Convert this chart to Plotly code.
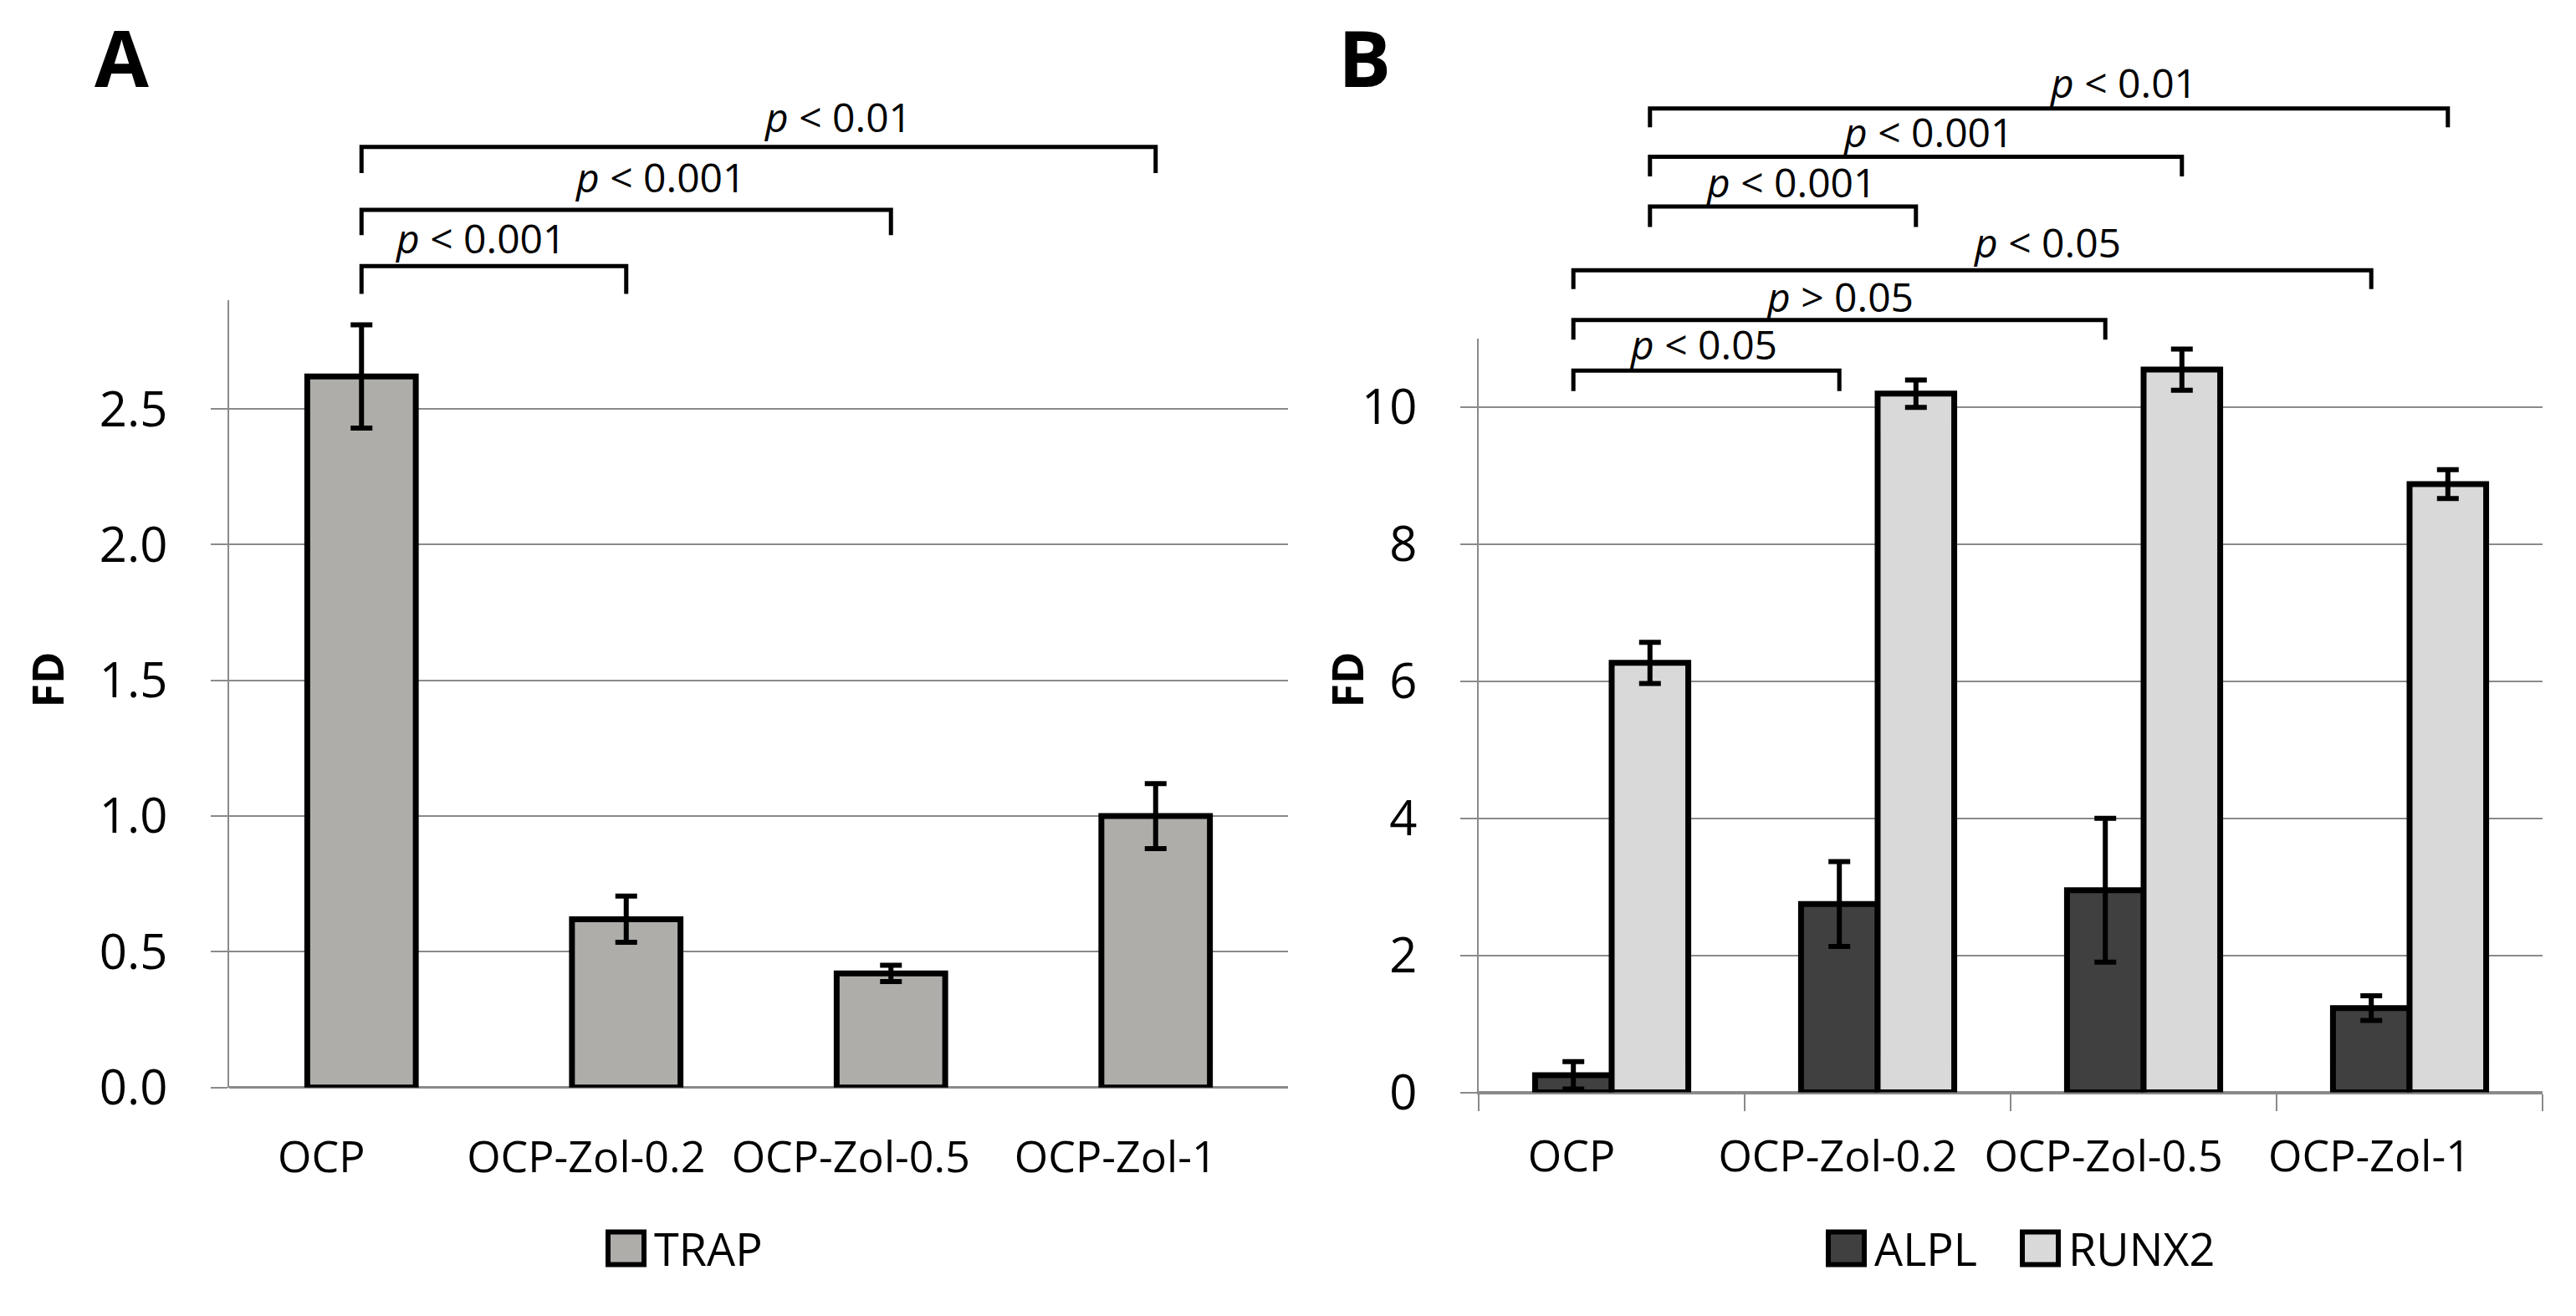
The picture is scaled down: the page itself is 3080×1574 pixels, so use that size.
import plotly.graph_objects as go

# ---------------- data ----------------
categories = ["OCP", "OCP-Zol-0.2", "OCP-Zol-0.5", "OCP-Zol-1"]
trap = [2.62, 0.62, 0.42, 1.00]
trap_err = [0.19, 0.085, 0.03, 0.12]
alpl = [0.25, 2.75, 2.95, 1.23]
alpl_err = [0.20, 0.62, 1.05, 0.18]
runx2 = [6.27, 10.20, 10.55, 8.88]
runx2_err = [0.30, 0.20, 0.30, 0.21]
yticks_a = [0.0, 0.5, 1.0, 1.5, 2.0, 2.5]
yticks_b = [0, 2, 4, 6, 8, 10]

# significance comparisons: (from category, to category, operator, p threshold)
sig_a = [(0, 1, "<", "0.001"), (0, 2, "<", "0.001"), (0, 3, "<", "0.01")]
sig_b_alpl = [(0, 1, "<", "0.05"), (0, 2, ">", "0.05"), (0, 3, "<", "0.05")]
sig_b_runx2 = [(0, 1, "<", "0.001"), (0, 2, "<", "0.001"), (0, 3, "<", "0.01")]

# ---------------- styling / layout ----------------
W, H = 3080, 1574
FONT = "Open Sans, Liberation Sans, Arial, sans-serif"
GRID = "#8a8a8a"
TRAP_C = "#aeada9"
ALPL_C = "#404040"
RUNX2_C = "#d9d9d9"


def py(p):
    return 1 - p / H


def px(p):
    return p / W


fig = go.Figure()

err_style = dict(type="data", thickness=6, width=13, color="black")
bar_line = dict(color="black", width=7)

fig.add_trace(go.Bar(x=categories, y=trap, width=0.41, marker=dict(color=TRAP_C, line=bar_line),
                     error_y=dict(array=trap_err, **err_style), xaxis="x", yaxis="y",
                     showlegend=False, name="TRAP"))
fig.add_trace(go.Bar(x=categories, y=alpl, width=0.288, offset=-0.288,
                     marker=dict(color=ALPL_C, line=bar_line),
                     error_y=dict(array=alpl_err, **err_style), xaxis="x2", yaxis="y2",
                     showlegend=False, name="ALPL"))
fig.add_trace(go.Bar(x=categories, y=runx2, width=0.288, offset=0,
                     marker=dict(color=RUNX2_C, line=bar_line),
                     error_y=dict(array=runx2_err, **err_style), xaxis="x2", yaxis="y2",
                     showlegend=False, name="RUNX2"))

tickfont = dict(family=FONT, size=52, color="black")
ytickfont = dict(family=FONT, size=58, color="black")

fig.update_layout(
    width=W, height=H, margin=dict(l=0, r=0, t=0, b=0),
    paper_bgcolor="white", plot_bgcolor="white",
    barmode="overlay",
    xaxis=dict(domain=[px(274), px(1540)], type="category", categoryorder="array",
               categoryarray=categories, showgrid=False, showline=False, ticks="",
               tickfont=tickfont, ticklabelstandoff=48, ticklabelshift=-48, zeroline=False),
    yaxis=dict(domain=[py(1332), py(368)], range=[0, 2.9], tickvals=yticks_a, tickformat=".1f",
               showgrid=True, gridcolor=GRID, gridwidth=2, zeroline=True, zerolinecolor=GRID,
               zerolinewidth=3, showline=True, linecolor=GRID, linewidth=2, ticks="outside",
               ticklen=20, tickwidth=2, tickcolor=GRID, tickfont=ytickfont, ticklabelstandoff=40),
    xaxis2=dict(domain=[px(1768), px(3040)], type="category", categoryorder="array",
                categoryarray=categories, showgrid=False, showline=True, linecolor=GRID,
                linewidth=2, ticks="outside", tickson="boundaries", ticklen=20, tickwidth=2,
                tickcolor=GRID, tickfont=tickfont, ticklabelstandoff=30, ticklabelshift=-48,
                anchor="y2", zeroline=False),
    yaxis2=dict(domain=[py(1338), py(415)], range=[0, 11], tickvals=yticks_b, tickformat="d",
                showgrid=True, gridcolor=GRID, gridwidth=2, zeroline=True, zerolinecolor=GRID,
                zerolinewidth=3, showline=True, linecolor=GRID, linewidth=2, ticks="outside",
                ticklen=20, tickwidth=2, tickcolor=GRID, tickfont=ytickfont, ticklabelstandoff=40,
                anchor="x2"),
)

shapes = []
annotations = []


def op_html(op):
    return "&lt;" if op == "<" else "&gt;"


def add_brackets(sig, xref, x_shift, levels, text_pos):
    for (a, b, op, thr), (ytop, ybot), (tx, ty) in zip(sig, levels, text_pos):
        x0, x1 = a + x_shift, b + x_shift
        shapes.append(dict(type="path", xref=xref, yref="paper",
                           path=f"M {x0},{py(ybot)} L {x0},{py(ytop)} L {x1},{py(ytop)} L {x1},{py(ybot)}",
                           line=dict(color="black", width=5)))
        annotations.append(dict(xref=xref, yref="paper", x=tx, y=py(ty), xanchor="center",
                                yanchor="middle", showarrow=False,
                                text=f"<i>p</i> {op_html(op)} {thr}",
                                font=dict(family=FONT, size=48, color="black")))


add_brackets(sig_a, "x", 0.0, [(326, 360), (257, 288), (180, 212)],
             [(0.45, 291), (1.13, 217), (1.80, 143)])
add_brackets(sig_b_alpl, "x2", -0.144, [(454, 479), (392, 416), (331, 354)],
             [(0.343, 421), (0.858, 363), (1.638, 296)])
add_brackets(sig_b_runx2, "x2", 0.144, [(253, 278), (192, 216), (133, 156)],
             [(0.673, 223), (1.189, 161), (1.923, 101)])

# panel letters and y titles
for txt, x in (("A", 145), ("B", 1632)):
    annotations.append(dict(xref="paper", yref="paper", x=px(x), y=py(70), text=f"<b>{txt}</b>",
                            showarrow=False, xanchor="center", yanchor="middle",
                            font=dict(family=FONT, size=94, color="black")))
for x in (55, 1609):
    annotations.append(dict(xref="paper", yref="paper", x=px(x), y=py(833), text="<b>FD</b>",
                            showarrow=False, xanchor="center", yanchor="middle", textangle=-90,
                            font=dict(family=FONT, size=52, color="black")))

# legends
legend_items = [("TRAP", TRAP_C, 727), ("ALPL", ALPL_C, 2186), ("RUNX2", RUNX2_C, 2418)]
for name, color, x in legend_items:
    shapes.append(dict(type="rect", xref="paper", yref="paper", x0=px(x), x1=px(x + 43),
                       y0=py(1549), y1=py(1509), fillcolor=color, line=dict(color="black", width=6)))
    annotations.append(dict(xref="paper", yref="paper", x=px(x + 53), y=py(1529), text=name,
                            showarrow=False, xanchor="left", yanchor="middle",
                            font=dict(family=FONT, size=54, color="black")))

fig.update_layout(shapes=shapes, annotations=annotations)
fig.write_html("out.html", config={"displayModeBar": False},
               post_script="document.body.style.margin='0';document.body.style.overflow='hidden';")
